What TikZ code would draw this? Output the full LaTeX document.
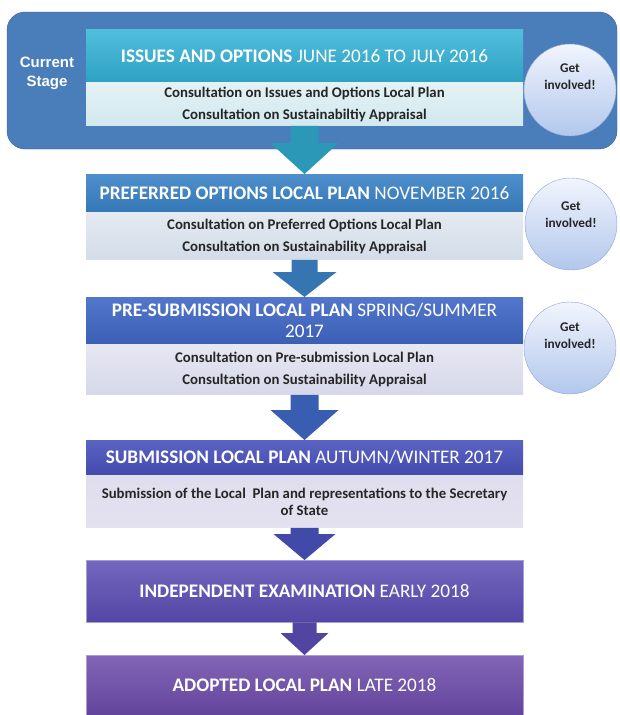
\documentclass[tikz,border=0pt]{standalone}
\usepackage{fontspec}
\setmainfont{Carlito}
\newfontfamily\arialfont{Liberation Sans}
\usetikzlibrary{calc}

% stage colours, from teal down to purple
\definecolor{frameblue}{HTML}{4A7EBB}
\definecolor{headA}{HTML}{33B3D8}
\definecolor{headB}{HTML}{3A82C6}
\definecolor{headC}{HTML}{3F67C5}
\definecolor{headD}{HTML}{4852BC}
\definecolor{headE}{HTML}{5B4CB3}
\definecolor{headF}{HTML}{6C4AA9}
\definecolor{subA}{HTML}{D2E9EF}
\definecolor{subB}{HTML}{D3DCE8}
\definecolor{subC}{HTML}{D6D8EA}
\definecolor{subD}{HTML}{D8D5E9}
\definecolor{circtop}{HTML}{F1F5FD}
\definecolor{circbot}{HTML}{B2C7EC}
\definecolor{circedge}{HTML}{8AA4D4}

\newcommand\headfont{\fontsize{19.2}{21}\selectfont}
\newcommand\subfont{\bfseries\fontsize{14.8}{17}\selectfont}

% block arrow between two boxes: from, to, colour, head half width, head length, shaft half width
\newcommand\stagearrow[6]{%
  \fill [#3] let \p1 = (#1.south), \p2 = (#2.north) in
    (\x1-#6,\y1) -- (\x1-#6,\y2+#5) -- (\x1-#4,\y2+#5) -- (\x2,\y2)
    -- (\x1+#4,\y2+#5) -- (\x1+#6,\y2+#5) -- (\x1+#6,\y1) -- cycle;}

\begin{document}
\begin{tikzpicture}[x=1pt, y=1pt,
    head/.style={anchor=north, minimum width=437pt, minimum height=#1, inner sep=0pt,
      text=white, align=center, font=\headfont},
    sub/.style={anchor=north, minimum width=437pt, minimum height=#1, inner sep=0pt,
      text=black!85, align=center, font=\subfont},
    getin/.style={circle, minimum size=92pt, inner sep=0pt, draw=circedge,
      top color=circtop, bottom color=circbot},
    getlbl/.style={align=center, text=black!85, font=\bfseries\fontsize{13.3}{17}\selectfont}]
  \useasboundingbox (0,0) rectangle (620,-715);

  % current stage frame
  \draw [rounded corners=18pt, fill=frameblue, draw=frameblue!75!black] (7,-12) rectangle (617,-149);
  \node [text=white, align=center, font=\arialfont\bfseries\fontsize{15}{19}\selectfont] (now) at (47,-73) {Current\\Stage};

  % stages
  \node [head=53pt, top color=headA!85!white, bottom color=headA!90!black] (h1) at (304.5,-29)
    {\textbf{ISSUES AND OPTIONS} JUNE 2016 TO JULY 2016};
  \node [sub=43pt, top color=subA!60!white, bottom color=subA] (s1) at (h1.south)
    {Consultation on Issues and Options Local Plan\\[5pt]Consultation on Sustainabiltiy Appraisal};

  \node [head=38pt, top color=headB!90!white, bottom color=headB!92!black] (h2) at (304.5,-174)
    {\textbf{PREFERRED OPTIONS LOCAL PLAN} NOVEMBER 2016};
  \node [sub=47pt, top color=subB!60!white, bottom color=subB] (s2) at (h2.south)
    {Consultation on Preferred Options Local Plan\\[5pt]Consultation on Sustainability Appraisal};

  \node [head=47pt, top color=headC!90!white, bottom color=headC!92!black] (h3) at (304.5,-297)
    {\textbf{PRE-SUBMISSION LOCAL PLAN} SPRING/SUMMER\\2017};
  \node [sub=50pt, top color=subC!60!white, bottom color=subC] (s3) at (h3.south)
    {Consultation on Pre-submission Local Plan\\[5pt]Consultation on Sustainability Appraisal};

  \node [head=35pt, top color=headD!90!white, bottom color=headD!92!black] (h4) at (304.5,-440)
    {\textbf{SUBMISSION LOCAL PLAN} AUTUMN/WINTER 2017};
  \node [sub=52pt, top color=subD!80!white, bottom color=subD!70!white] (s4) at (h4.south)
    {Submission of the Local\ \ Plan and representations to the Secretary\\of State};

  \node [head=62pt, top color=headE!85!white, bottom color=headE!92!black, draw=headE!55!white] (h5) at (304.5,-560)
    {\textbf{INDEPENDENT EXAMINATION} EARLY 2018};
  \node [head=60pt, top color=headF!85!white, bottom color=headF!92!black, draw=headF!55!white] (h6) at (304.5,-655)
    {\textbf{ADOPTED LOCAL PLAN} LATE 2018};

  % arrows
  \stagearrow{s1}{h2}{headA!85!black}{34pt}{31pt}{14pt}
  \stagearrow{s2}{h3}{headB!90!black}{32pt}{25pt}{13pt}
  \stagearrow{s3}{h4}{headC!90!black}{34pt}{30pt}{14pt}
  \stagearrow{s4}{h5}{headD!90!black}{31pt}{26pt}{14pt}
  \stagearrow{h5}{h6}{headE!90!black}{24pt}{22pt}{12pt}

  % get involved
  \node [getin] (g1) at (570,-90) {};
  \node [getlbl] (g1t) at ([yshift=13pt]g1.center) {Get\\involved!};
  \node [getin] (g2) at (571,-224) {};
  \node [getlbl] (g2t) at ([yshift=9pt]g2.center) {Get\\involved!};
  \node [getin] (g3) at (570,-348) {};
  \node [getlbl] (g3t) at ([yshift=12pt]g3.center) {Get\\involved!};
\end{tikzpicture}
\end{document}
